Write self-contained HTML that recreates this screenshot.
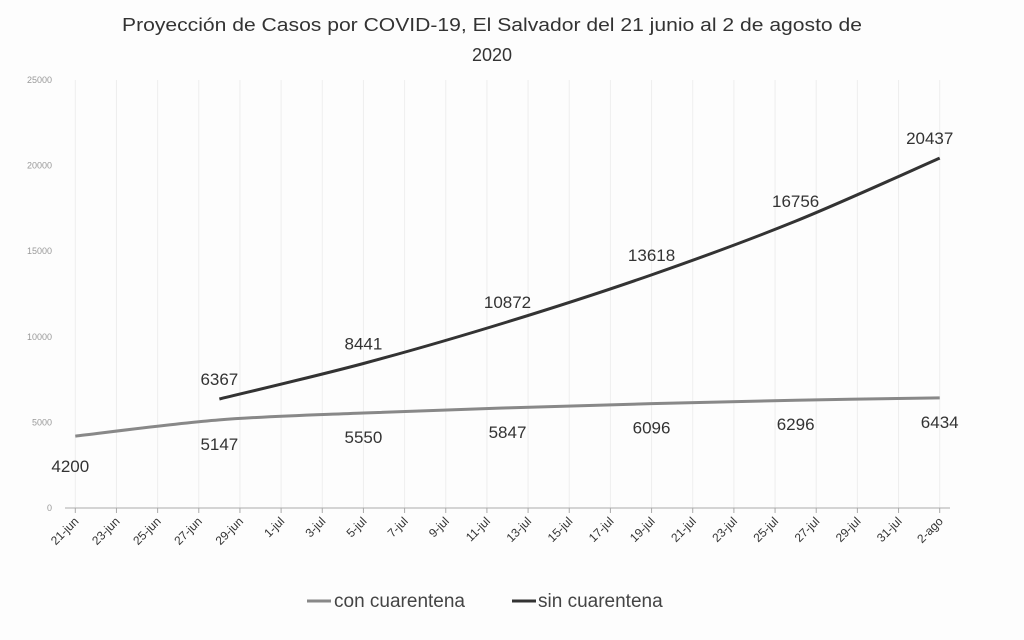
<!DOCTYPE html>
<html><head><meta charset="utf-8"><style>
html,body{margin:0;padding:0;background:#fdfdfd;}
svg{display:block;font-family:"Liberation Sans",sans-serif;}
</style></head><body>
<svg id="chart" width="1024" height="640" viewBox="0 0 1024 640">
<text x="492" y="31" text-anchor="middle" font-size="18" fill="#333" textLength="740" lengthAdjust="spacingAndGlyphs">Proyección de Casos por COVID-19, El Salvador del 21 junio al 2 de agosto de</text>
<text x="492" y="61" text-anchor="middle" font-size="18" fill="#333">2020</text>
<g id="grid"></g><g id="axes"></g><g id="series"></g><g id="labels"></g>
<g>
<line x1="307" y1="601" x2="331" y2="601" stroke="#888" stroke-width="3"/>
<text x="334" y="607" font-size="19" fill="#444">con cuarentena</text>
<line x1="512" y1="601" x2="536" y2="601" stroke="#333" stroke-width="3"/>
<text x="538" y="607" font-size="19" fill="#444">sin cuarentena</text>
</g>
</svg>
<script>
const yTicks = [0, 5000, 10000, 15000, 20000, 25000];
const xTickLabels = ["21-jun","23-jun","25-jun","27-jun","29-jun","1-jul","3-jul","5-jul","7-jul","9-jul","11-jul","13-jul","15-jul","17-jul","19-jul","21-jul","23-jul","25-jul","27-jul","29-jul","31-jul","2-ago"];
const conDays = [0, 7, 14, 21, 28, 35, 42];
const conValues = [4200, 5147, 5550, 5847, 6096, 6296, 6434];
const sinDays = [7, 14, 21, 28, 35, 42];
const sinValues = [6367, 8441, 10872, 13618, 16756, 20437];

const NS = "http://www.w3.org/2000/svg";
const left = 65, right = 950, nCat = 43, y0 = 508, yMax = 25000, yTop = 80;
const w = (right - left) / nCat;
function xs(d){ return left + (d + 0.5) * w; }
function ys(v){ return y0 - (v / yMax) * (y0 - yTop); }
function mk(tag, attrs, parent){
  const e = document.createElementNS(NS, tag);
  for (const k in attrs) e.setAttribute(k, attrs[k]);
  parent.appendChild(e); return e;
}
const grid = document.getElementById('grid'), axes = document.getElementById('axes');
const series = document.getElementById('series'), labels = document.getElementById('labels');

yTicks.forEach(t => {
  const tx = mk('text', {x: 52, y: ys(t) + 3, 'text-anchor': 'end', 'font-size': 9, fill: '#999'}, axes);
  
  
  tx.textContent = t;
});
xTickLabels.forEach((lab, i) => {
  const d = i * 2;
  const x = xs(d);
  const g = mk('line', {x1: x, y1: yTop, x2: x, y2: y0, stroke: '#eee', 'stroke-width': 1}, grid);
  
  
  const tk = mk('line', {x1: x, y1: y0, x2: x, y2: y0 + 5, stroke: '#aaa', 'stroke-width': 1}, axes);
  
  
  const tx = mk('text', {x: x + 4, y: y0 + 14, 'text-anchor': 'end', 'font-size': 12, fill: '#333', transform: `rotate(-45 ${x + 4} ${y0 + 14})`}, axes);
  
  
  tx.textContent = lab;
});
const ax = mk('line', {x1: left, y1: y0, x2: right, y2: y0, stroke: '#aaa', 'stroke-width': 1}, axes);



function smooth(days, vals){
  const p = days.map((d, i) => [xs(d), ys(vals[i])]);
  let s = `M${p[0][0]},${p[0][1]}`;
  for (let i = 0; i < p.length - 1; i++){
    const a = p[Math.max(0, i - 1)], b = p[i], c = p[i + 1], d = p[Math.min(p.length - 1, i + 2)];
    const c1 = [b[0] + (c[0] - a[0]) / 6, b[1] + (c[1] - a[1]) / 6];
    const c2 = [c[0] - (d[0] - b[0]) / 6, c[1] - (d[1] - b[1]) / 6];
    s += ` C${c1[0]},${c1[1]} ${c2[0]},${c2[1]} ${c[0]},${c[1]}`;
  }
  return s;
}
const conLine = mk('path', {d: smooth(conDays, conValues), fill: 'none', stroke: '#888', 'stroke-width': 3}, series);


const sinLine = mk('path', {d: smooth(sinDays, sinValues), fill: 'none', stroke: '#333', 'stroke-width': 3}, series);



conDays.forEach((d, i) => {
  const off = i === 0 ? 36 : 30;
  const tx = mk('text', {x: xs(d) + (i === 0 ? -5 : 0), y: ys(conValues[i]) + off, 'text-anchor': 'middle', 'font-size': 17, fill: '#333'}, labels);
  
  
  tx.textContent = conValues[i];
});
sinDays.forEach((d, i) => {
  const tx = mk('text', {x: xs(d) + (i === sinDays.length - 1 ? -10 : 0), y: ys(sinValues[i]) - 14, 'text-anchor': 'middle', 'font-size': 17, fill: '#333'}, labels);
  
  
  tx.textContent = sinValues[i];
});
</script>
</body></html>
